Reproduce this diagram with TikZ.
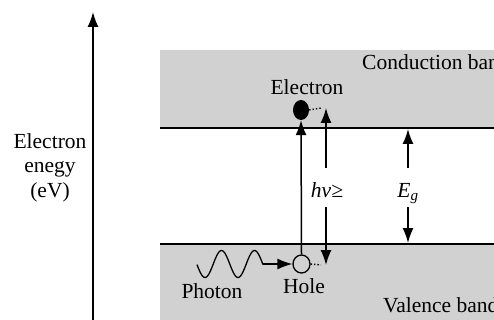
\documentclass[tikz,border=0pt]{standalone}
\usepackage{fontspec}
\setmainfont{Liberation Serif}
\usetikzlibrary{arrows.meta,shapes.geometric}
\tikzset{
  lbl/.style={inner sep=0pt, font=\fontsize{21.5}{24}\selectfont},
  arr/.style={line width=1.5pt, -{Latex[length=15pt,width=11pt]}},
  band/.style={fill=black!18, draw=none},
  edge/.style={line width=2pt},
  dots/.style={line width=1.4pt, dotted},
}
\begin{document}
\begin{tikzpicture}[x=1pt,y=-1pt]
\useasboundingbox (0,0) rectangle (494,320);
\clip (0,0) rectangle (494,320);
\fill[white] (0,0) rectangle (494,320);
% bands
\fill[band] (160,50) rectangle (494,128);
\fill[band] (160,244) rectangle (494,320);
\coordinate (cbL) at (160,128); \coordinate (cbR) at (494,128);
\coordinate (vbL) at (160,244); \coordinate (vbR) at (494,244);
\draw[edge] (cbL) -- (cbR);
\draw[edge] (vbL) -- (vbR);
% energy axis
\coordinate (axB) at (93,320); \coordinate (axT) at (93,12);
\draw[arr] (axB) -- (axT);
\node[lbl, anchor=base] (ax1) at (50,149) {Electron};
\node[lbl, anchor=base] (ax2) at (50,172) {enegy};
\node[lbl, anchor=base] (ax3) at (50,197) {(eV)};
% band labels
\node[lbl, anchor=base west] (cbt) at (362,70) {Conduction band};
\node[lbl, anchor=base west] (vbt) at (383,312) {Valence band};
% electron and hole
\node[fill=black, ellipse, minimum width=16pt, minimum height=20pt, inner sep=0pt] (el) at (301,110) {};
\node[draw=black, fill=black!18, line width=1.3pt, ellipse, minimum width=17pt, minimum height=18pt, inner sep=0pt] (ho) at (301.5,264) {};
\node[lbl, anchor=base] (elt) at (307,95) {Electron};
\node[lbl, anchor=base] (hot) at (304,293) {Hole};
\draw[arr] (ho.north) -- (el.south);
% photon
\draw[line width=1.3pt] plot[domain=197:263, samples=80] (\x, {264+13.5*cos((\x-205)/33*360)});
\coordinate (wend) at (263,264);
\draw[arr] (wend) -- (ho.west);
\node[lbl, anchor=base] (pht) at (212,298) {Photon};
% h nu arrows
\node[lbl, anchor=base] (hn) at (327,197) {\itshape hν≥};
\coordinate (hnT) at (326,108);
\coordinate (hnB) at (326,265);
\coordinate (hnTs) at (326,168);
\coordinate (hnBs) at (326,207);
\coordinate (dT) at (321,108);
\coordinate (dB) at (321,265);
\draw[arr] (hnTs) -- (hnT);
\draw[arr] (hnBs) -- (hnB);
\draw[dots] (el.east) -- (dT);
\draw[dots] (ho.east) -- (dB);
% Eg arrows
\node[lbl, anchor=base] (eg) at (408,197) {\itshape E\textsubscript{g}};
\coordinate (egT) at (408,129);
\coordinate (egB) at (408,243);
\coordinate (egTs) at (408,168);
\coordinate (egBs) at (408,207);
\draw[arr] (egTs) -- (egT);
\draw[arr] (egBs) -- (egB);
\end{tikzpicture}
\end{document}
